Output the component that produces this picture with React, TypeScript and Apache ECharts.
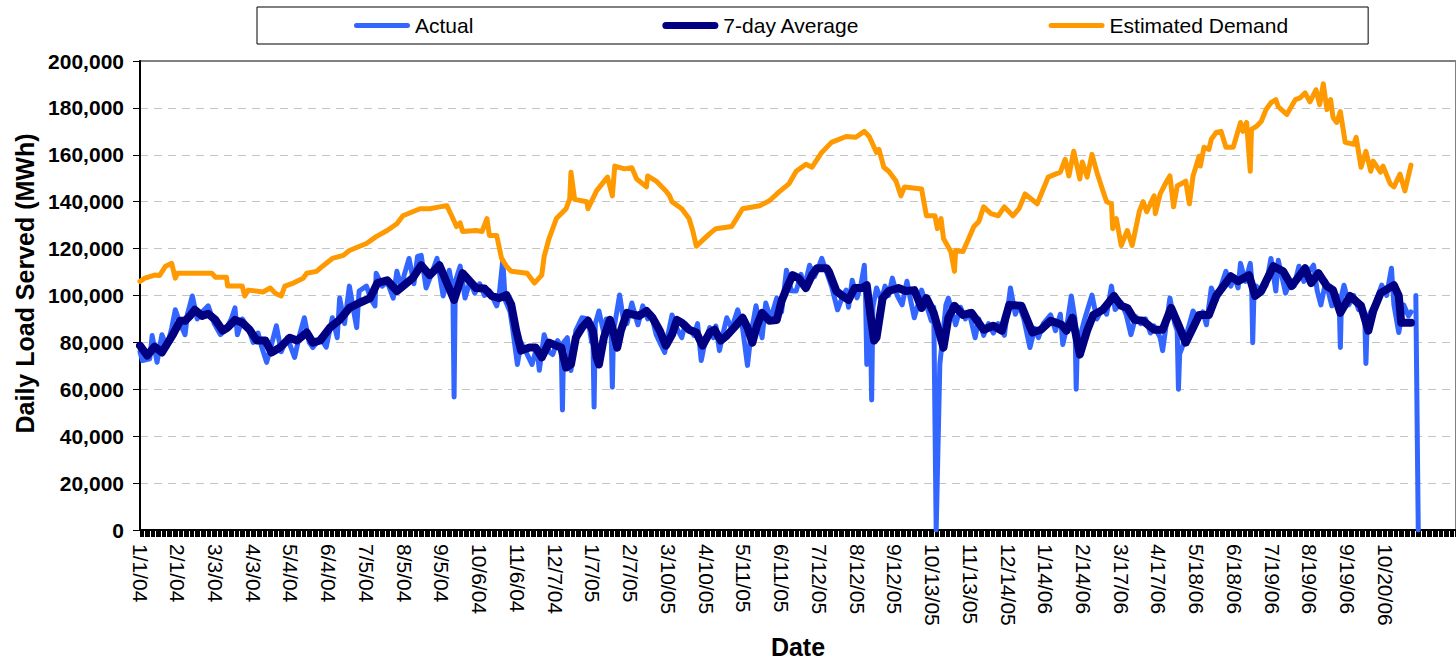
import React, { useEffect, useRef } from "react";
import * as echarts from "echarts";

const FONT = "'Liberation Sans', Arial, sans-serif";

// Tick labels: one every 31 days, starting 1/1/04 (day 0)
const DATE_LABELS = [
  "1/1/04", "2/1/04", "3/3/04", "4/3/04", "5/4/04", "6/4/04", "7/5/04", "8/5/04", "9/5/04",
  "10/6/04", "11/6/04", "12/7/04", "1/7/05", "2/7/05", "3/10/05", "4/10/05", "5/11/05",
  "6/11/05", "7/12/05", "8/12/05", "9/12/05", "10/13/05", "11/13/05", "12/14/05", "1/14/06",
  "2/14/06", "3/17/06", "4/17/06", "5/18/06", "6/18/06", "7/19/06", "8/19/06", "9/19/06",
  "10/20/06",
];

const SERIES_NAMES = ["Actual", "7-day Average", "Estimated Demand"];

// [day since 1/1/04, MWh]
const ACTUAL: [number, number | null][] = [
  [0, 76000], [2, 72300], [8, 73000], [10, 82900], [14, 71500], [18, 83300], [22, 78000],
  [26, 86000], [29, 93900], [33, 88000], [37, 83300], [39, 92000], [43, 99800], [47, 90000],
  [51, 93000], [56, 95600], [61, 88000], [66, 83300], [71, 86000], [75, 90000], [78, 94700],
  [80, 83300], [84, 90000], [89, 86000], [93, 80000], [97, 84000], [100, 78000], [104, 71500],
  [108, 79000], [112, 87100], [116, 76000], [121, 82000], [127, 73600], [131, 83000],
  [135, 90500], [139, 80000], [142, 77800], [148, 82000], [153, 78000], [158, 90500],
  [162, 82000], [164, 98900], [168, 88000], [172, 104000], [176, 92000], [178, 86300],
  [180, 101900], [186, 104000], [190, 98000], [193, 95600], [194, 109500], [199, 104000],
  [203, 106000], [208, 98900], [211, 110300], [215, 103000], [217, 108700], [221, 115800],
  [225, 105000], [228, 116700], [231, 117100], [235, 103200], [240, 110000], [244, 115800],
  [249, 99800], [252, 106000], [254, 110800], [257, 102000], [258, 56700], [259, 106000],
  [263, 112500], [267, 98900], [271, 106000], [275, 101000], [279, 105000], [283, 100000],
  [287, 102000], [293, 95600], [295, 100000], [298, 115000], [300, 98000], [304, 93000],
  [306, 86300], [310, 70600], [313, 80000], [317, 76000], [322, 70600], [326, 78000],
  [328, 68100], [332, 83300], [336, 76000], [339, 74800], [343, 80800], [346, 78000],
  [347, 51200], [348, 80000], [351, 82000], [354, 68000], [358, 85000], [363, 90500],
  [368, 90000], [371, 80000], [372, 84000], [373, 52400], [374, 88000], [377, 93400],
  [381, 84000], [383, 90000], [387, 85000], [388, 60900], [389, 86000], [390, 88000],
  [394, 100200], [397, 90000], [400, 88000], [404, 96800], [409, 87500], [413, 95600],
  [417, 90000], [420, 92000], [424, 83300], [427, 80000], [431, 75700], [434, 84000],
  [437, 91700], [441, 86000], [445, 82000], [448, 88000], [451, 86300], [455, 83000],
  [458, 88000], [461, 72300], [464, 80000], [468, 86300], [471, 82000], [473, 87000],
  [476, 76500], [479, 84000], [482, 90500], [486, 86000], [491, 93900], [495, 86000],
  [499, 70200], [502, 84000], [506, 95600], [511, 82000], [514, 96800], [518, 90000],
  [523, 98900], [527, 93000], [531, 110800], [535, 102000], [539, 101900], [543, 109000],
  [546, 104000], [550, 112900], [554, 108000], [558, 113000], [560, 115800], [564, 110000],
  [568, 104000], [573, 93900], [576, 98000], [580, 102300], [582, 95000], [585, 106500],
  [589, 99000], [592, 104000], [595, 112900], [596, 100000], [597, 70600], [598, 96000],
  [600, 90000], [601, 55400], [602, 95000], [605, 103200], [609, 98000], [612, 104000],
  [615, 100000], [618, 107400], [622, 100000], [626, 96000], [630, 106100], [633, 98000],
  [636, 90500], [639, 96000], [642, 102300], [646, 96000], [650, 89200], [652, 95000],
  [654, 0], [657, 70600], [662, 96000], [664, 98900], [670, 87500], [674, 95000],
  [678, 90000], [681, 93000], [686, 82000], [689, 90000], [693, 83000], [697, 88000],
  [701, 84000], [705, 88000], [710, 83000], [715, 103200], [719, 92000], [722, 96000],
  [726, 90000], [731, 77800], [735, 86000], [738, 82000], [742, 88000], [748, 91700],
  [752, 85000], [756, 92000], [758, 79100], [761, 86000], [765, 99800], [768, 90000],
  [769, 60000], [770, 80000], [772, 82000], [776, 90000], [782, 100200], [786, 90000],
  [791, 95000], [794, 92000], [798, 104000], [801, 94000], [806, 97000], [810, 92000],
  [814, 83300], [818, 91000], [822, 88000], [826, 90000], [830, 84000], [833, 87000],
  [838, 82000], [840, 76500], [846, 98900], [850, 88000], [852, 85000], [853, 60000],
  [854, 75000], [856, 77800], [861, 86000], [865, 93400], [869, 90000], [873, 93000],
  [876, 87500], [880, 103200], [884, 98000], [888, 104000], [892, 110300], [896, 104000],
  [899, 108000], [902, 103200], [904, 113700], [908, 106000], [912, 113700], [913, 108000],
  [914, 79900], [915, 100000], [917, 104000], [921, 101000], [925, 104400], [929, 115800],
  [933, 101900], [935, 115000], [941, 101000], [945, 106000], [948, 104000], [952, 112500],
  [956, 106000], [960, 110000], [964, 112900], [967, 102000], [970, 96000], [974, 106000],
  [979, 95600], [983, 100000], [985, 98000], [986, 77800], [987, 100000], [989, 104400],
  [993, 96000], [997, 100000], [1001, 94000], [1003, 96000], [1006, 92000], [1007, 71000],
  [1008, 88000], [1010, 92000], [1014, 96000], [1017, 100000], [1020, 104400], [1024, 100000],
  [1028, 111600], [1030, 96000], [1034, 84200], [1038, 96000], [1042, 91300], [1044, 93000],
  [1046, null], [1048, 100000], [1050, 0],
];

const AVERAGE: [number, number][] = [
  [0, 78600], [6, 74400], [12, 78200], [18, 75700], [22, 79100], [27, 83300], [33, 89200],
  [37, 89200], [41, 91300], [45, 93900], [51, 91300], [56, 92200], [62, 89600], [68, 85000],
  [72, 86300], [78, 89600], [84, 88400], [90, 85400], [96, 80800], [103, 80800], [108, 75700],
  [115, 77800], [123, 82000], [129, 80800], [137, 84200], [142, 79900], [148, 80800],
  [156, 86300], [164, 89600], [172, 94700], [180, 96800], [189, 98900], [195, 105300],
  [203, 106500], [211, 101900], [219, 105300], [224, 107400], [231, 112900], [238, 108700],
  [246, 112900], [258, 98100], [265, 109500], [276, 103200], [283, 103000], [289, 99800],
  [295, 98900], [301, 100200], [305, 96000], [309, 85000], [313, 76500], [320, 77800],
  [325, 77800], [330, 73600], [336, 79900], [342, 78600], [346, 77800], [350, 69300],
  [354, 70600], [358, 82000], [363, 86300], [368, 89200], [372, 85000], [375, 73600],
  [377, 70600], [381, 82000], [386, 89600], [388, 86300], [392, 77800], [395, 85000],
  [400, 92600], [404, 92000], [410, 91300], [416, 93400], [421, 90500], [427, 85000],
  [432, 78600], [437, 83300], [441, 89600], [445, 88400], [451, 85400], [457, 84200],
  [462, 78600], [468, 84200], [472, 85400], [477, 80800], [482, 82900], [488, 86300],
  [495, 90500], [499, 86300], [503, 79900], [507, 87500], [511, 92600], [517, 89200],
  [523, 89500], [527, 97700], [532, 104000], [536, 108700], [541, 107400], [547, 103200],
  [552, 108700], [556, 111600], [564, 111600], [566, 110000], [572, 101900], [577, 99800],
  [582, 98100], [587, 103200], [593, 103200], [597, 104400], [600, 91700], [603, 80800],
  [605, 82000], [610, 98900], [615, 101900], [623, 103200], [629, 101900], [636, 102300],
  [642, 94700], [646, 98900], [652, 92500], [660, 77800], [664, 90500], [669, 95600],
  [676, 91700], [683, 92600], [693, 85400], [701, 87100], [708, 85000], [714, 96000],
  [724, 95600], [733, 84200], [740, 85400], [748, 89200], [757, 87500], [761, 85000],
  [766, 90500], [772, 74800], [778, 85000], [783, 91700], [791, 93900], [800, 99800],
  [806, 95600], [811, 94700], [817, 89600], [824, 89200], [833, 85400], [840, 85400],
  [847, 94700], [853, 87500], [859, 79900], [865, 86300], [870, 91700], [878, 91700],
  [884, 99800], [896, 108200], [902, 106100], [911, 108700], [916, 99800], [921, 101900],
  [931, 112500], [939, 110300], [946, 104000], [957, 111600], [962, 105300], [968, 109500],
  [975, 104000], [980, 102300], [986, 92600], [994, 99800], [1003, 95600], [1009, 85000],
  [1013, 93400], [1019, 101000], [1030, 104400], [1034, 99800], [1036, 88400], [1044, 88400],
];

const DEMAND: [number, number][] = [
  [0, 106000], [4, 107400], [12, 108700], [16, 108500], [21, 112500], [26, 113700],
  [29, 107400], [31, 109500], [59, 109500], [62, 107800], [71, 107800], [72, 104000],
  [84, 104000], [86, 99800], [89, 102300], [101, 101500], [107, 103200], [111, 101000],
  [116, 99800], [119, 104000], [126, 105300], [134, 107400], [137, 109500], [145, 110300],
  [150, 112500], [158, 115800], [167, 117100], [172, 119200], [180, 120900], [186, 122200],
  [194, 125100], [203, 127700], [211, 130600], [216, 134000], [224, 135700], [230, 137000],
  [238, 137000], [246, 137800], [252, 138300], [256, 134000], [260, 129400], [263, 131000],
  [265, 127300], [276, 127700], [281, 127300], [285, 132800], [287, 125600], [293, 125600],
  [297, 115800], [301, 112500], [305, 110300], [318, 109500], [324, 105300], [330, 108700],
  [332, 116700], [336, 124300], [342, 132800], [350, 137000], [353, 141200], [354, 152600],
  [357, 141000], [367, 140000], [368, 137000], [375, 144600], [384, 150500], [388, 142500],
  [390, 155200], [398, 154000], [404, 154500], [408, 149700], [416, 146300], [417, 151000],
  [424, 148800], [432, 144600], [435, 142500], [437, 140000], [445, 137000], [451, 132800],
  [454, 127700], [457, 121000], [462, 123500], [468, 126400], [473, 128500], [486, 129400],
  [490, 132800], [495, 137000], [509, 138300], [517, 140400], [525, 144200], [533, 147600],
  [539, 153000], [547, 156000], [552, 154700], [560, 161000], [568, 165300], [580, 167800],
  [588, 167500], [595, 170000], [599, 167800], [605, 161000], [607, 162300], [611, 154700],
  [615, 153000], [621, 148800], [625, 142500], [628, 146300], [642, 145400], [646, 134000],
  [653, 134000], [655, 128500], [658, 132800], [660, 124300], [666, 118800], [669, 110300],
  [670, 119200], [676, 118800], [680, 123500], [685, 129400], [689, 131500], [693, 137800],
  [699, 134900], [705, 134000], [710, 137800], [717, 134000], [722, 137000], [727, 143300],
  [737, 139100], [742, 145400], [746, 150500], [756, 152600], [760, 158100], [763, 151000],
  [767, 161500], [772, 149700], [774, 156900], [778, 150500], [782, 160200], [786, 152600],
  [791, 144600], [794, 140000], [798, 139100], [799, 128500], [802, 132800], [806, 121300],
  [811, 127700], [815, 121300], [821, 136100], [824, 140000], [827, 135700], [833, 142500],
  [834, 134900], [838, 143300], [843, 148400], [846, 151000], [849, 137800], [852, 146700],
  [859, 148800], [862, 139100], [865, 151000], [870, 159400], [871, 155200], [874, 163200],
  [878, 162300], [880, 166600], [884, 169500], [888, 170000], [892, 163200], [898, 163200],
  [904, 173800], [906, 170000], [909, 173800], [912, 153000], [913, 170800], [917, 172100],
  [921, 174200], [925, 179300], [929, 182200], [933, 183500], [935, 180500], [942, 177200],
  [949, 183500], [953, 184300], [957, 186400], [961, 182600], [966, 187700], [969, 181400],
  [972, 190300], [975, 179300], [978, 183500], [980, 175900], [983, 173800], [986, 178400],
  [990, 165300], [997, 164500], [999, 167400], [1003, 154700], [1007, 161500], [1011, 153000],
  [1013, 157300], [1019, 152600], [1021, 155200], [1027, 147600], [1030, 146300],
  [1035, 151800], [1039, 144600], [1044, 155600],
];

const COLORS = ["#3366ff", "#000080", "#ff9900"];
const WIDTHS = [5, 8, 5];

// rounded-bar legend icons (thickness relative to a 56px length)
const iconPath = (t: number) => {
  const r = t / 2;
  return `path://M${r},0H${56 - r}A${r},${r} 0 0 1 ${56 - r},${t}H${r}A${r},${r} 0 0 1 ${r},0Z`;
};

const W = 1456;
const H = 664;

export default function App() {
  const ref = useRef<HTMLDivElement>(null);

  useEffect(() => {
    if (!ref.current) return;
    const chart = echarts.init(ref.current, undefined, { renderer: "svg", width: W, height: H });
    const dataSets = [ACTUAL, AVERAGE, DEMAND];
    chart.setOption({
      animation: false,
      backgroundColor: "#ffffff",
      textStyle: { fontFamily: FONT, color: "#000" },
      legend: {
        data: SERIES_NAMES.map((name, k) => ({ name, icon: iconPath(k === 1 ? 7 : 5) })),
        left: 257,
        top: 7,
        padding: [8, 80, 8, 97],
        itemGap: 189,
        itemWidth: 56,
        itemHeight: 14,
        symbolKeepAspect: true,
        borderColor: "#000",
        borderWidth: 1,
        borderRadius: 0,
        textStyle: { fontFamily: FONT, fontSize: 21, color: "#000" },
      },
      grid: {
        left: 140,
        top: 61,
        right: -2,
        bottom: 130,
        show: true,
        borderColor: "#808080",
        borderWidth: 2,
        backgroundColor: "transparent",
      },
      xAxis: {
        type: "value",
        min: 0,
        max: 1081,
        interval: 31,
        name: "Date",
        nameLocation: "middle",
        nameGap: 104,
        nameTextStyle: { fontFamily: FONT, fontSize: 25, fontWeight: "bold", color: "#000" },
        axisLine: { show: true, onZero: false, lineStyle: { color: "#000", width: 2 } },
        axisTick: { show: true, length: 7, lineStyle: { color: "#000", width: 1 } },
        minorTick: { show: true, splitNumber: 31, length: 7, lineStyle: { color: "#000", width: 1 } },
        splitLine: { show: false },
        minorSplitLine: { show: false },
        axisLabel: {
          rotate: -90,
          margin: 14,
          fontFamily: FONT,
          fontSize: 21,
          color: "#000",
          formatter: (v: number) => {
            const i = Math.round(v / 31);
            return Math.abs(v - i * 31) < 0.01 && DATE_LABELS[i] ? DATE_LABELS[i] : "";
          },
        },
      },
      yAxis: {
        type: "value",
        min: 0,
        max: 200000,
        interval: 20000,
        name: "Daily Load Served (MWh)",
        nameLocation: "middle",
        nameGap: 101,
        nameTextStyle: {
          fontFamily: FONT,
          fontSize: 25,
          fontWeight: "bold",
          color: "#000",
          padding: [0, 0, 0, 24],
        },
        axisLine: { show: true, lineStyle: { color: "#000", width: 2 } },
        axisTick: { show: true, length: 7, lineStyle: { color: "#000", width: 1 } },
        axisLabel: {
          margin: 16,
          fontFamily: FONT,
          fontSize: 21,
          fontWeight: "bold",
          color: "#000",
          formatter: (v: number) => v.toLocaleString("en-US"),
        },
        splitLine: {
          show: true,
          showMaxLine: false,
          showMinLine: false,
          lineStyle: { color: "#c4c4c4", width: 1, type: [8, 6] },
        },
      },
      series: SERIES_NAMES.map((name, k) => ({
        name,
        type: "line",
        data: dataSets[k],
        showSymbol: false,
        symbol: "none",
        connectNulls: false,
        color: COLORS[k],
        itemStyle: { color: COLORS[k] },
        lineStyle: { color: COLORS[k], width: WIDTHS[k], join: "round", cap: "round" },
        z: 2 + k,
      })),
    });
    return () => chart.dispose();
  }, []);

  return (
    <div
      ref={ref}
      style={{ position: "absolute", left: 0, top: 0, width: W, height: H, background: "#fff" }}
    />
  );
}
